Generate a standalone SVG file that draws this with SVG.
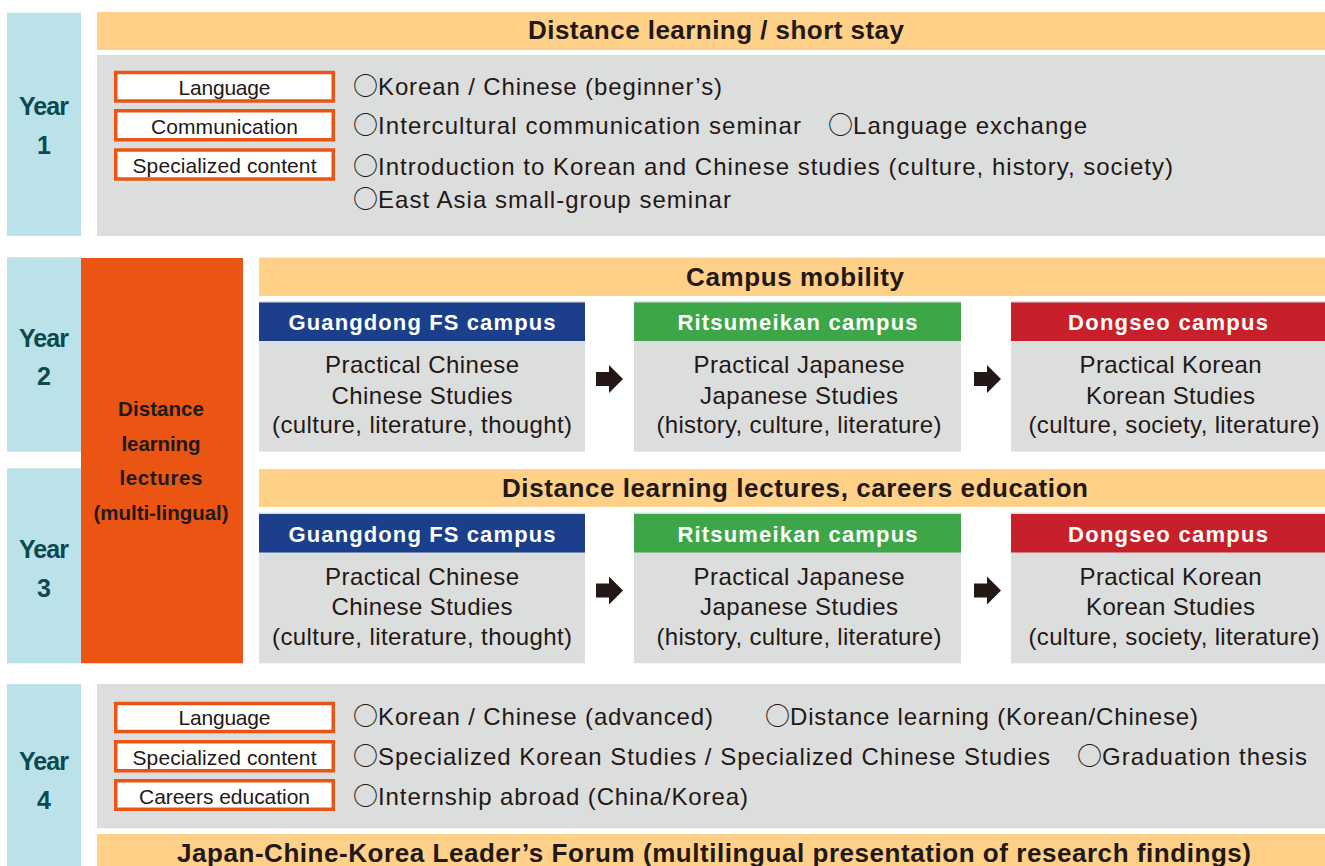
<svg xmlns="http://www.w3.org/2000/svg" width="1325" height="866" viewBox="0 0 1325 866">
<style>
.yr{fill:#BBE2E9}
.hd{fill:#FED088}
.gr{fill:#DCDDDD}
.side{fill:#EA5514}
.lbl{fill:#fff;stroke:#EA5514;stroke-width:3.5}
.t{font-family:"Liberation Sans","Noto Sans CJK JP",Arial,sans-serif;fill:#231815}
.cj{font-family:"Noto Sans CJK JP",sans-serif;font-size:25px}
.body{font-size:24px}
.lt{font-size:21px;text-anchor:middle}
.hb{font-size:26px;font-weight:bold;text-anchor:middle}
.yt{font-size:25px;font-weight:bold;fill:#0B4A50;text-anchor:middle}
.st{font-size:20.5px;font-weight:bold;text-anchor:middle}
.ch{font-size:22px;font-weight:bold;fill:#fff;text-anchor:middle}
.cb{font-size:24px;text-anchor:middle}
.arrow{fill:#231815}
</style>
<defs>
<path id="arr" d="M0,-7 H13 V-14 L27,0 L13,14 V7 H0 Z"/>
</defs>

<!-- Year 1 -->
<g id="year1">
<rect class="yr" x="7" y="12.7" width="74" height="223.3"/>
<text class="t yt" x="44" y="115" textLength="50">Year</text>
<text class="t yt" x="44" y="154">1</text>
<rect class="hd" x="97" y="12" width="1228" height="38"/>
<text class="t hb" x="716" y="39" textLength="376">Distance learning / short stay</text>
<rect class="gr" x="97" y="55" width="1228" height="181"/>
<rect class="lbl" x="115.75" y="72.5" width="217.5" height="28.5"/>
<text class="t lt" x="224.5" y="95" textLength="92">Language</text>
<rect class="lbl" x="115.75" y="110.75" width="217.5" height="29"/>
<text class="t lt" x="224.5" y="133.5" textLength="147">Communication</text>
<rect class="lbl" x="115.75" y="150" width="217.5" height="29"/>
<text class="t lt" x="224.5" y="173" textLength="184">Specialized content</text>
<text class="t body" x="353" y="95"><tspan class="cj">○</tspan><tspan x="378" textLength="344">Korean / Chinese (beginner’s)</tspan></text>
<text class="t body" x="353" y="134"><tspan class="cj">○</tspan><tspan x="378" textLength="423">Intercultural communication seminar</tspan></text>
<text class="t body" x="828" y="134"><tspan class="cj">○</tspan><tspan x="853" textLength="234">Language exchange</tspan></text>
<text class="t body" x="353" y="174.5"><tspan class="cj">○</tspan><tspan x="378" textLength="795">Introduction to Korean and Chinese studies (culture, history, society)</tspan></text>
<text class="t body" x="353" y="207.5"><tspan class="cj">○</tspan><tspan x="378" textLength="353">East Asia small-group seminar</tspan></text>
</g>

<!-- Year 2 / 3 side -->
<g id="year2">
<rect class="yr" x="7" y="257.3" width="74" height="194.4"/>
<text class="t yt" x="44" y="346.7" textLength="50">Year</text>
<text class="t yt" x="44" y="385">2</text>
</g>
<g id="year3">
<rect class="yr" x="7" y="468.3" width="74" height="195"/>
<text class="t yt" x="44" y="558" textLength="50">Year</text>
<text class="t yt" x="44" y="597">3</text>
</g>
<g id="distance-lectures">
<rect class="side" x="81" y="258" width="162" height="405.3"/>
<text class="t st" x="161" y="415.5" textLength="86">Distance</text>
<text class="t st" x="161" y="450.5" textLength="79">learning</text>
<text class="t st" x="161" y="485" textLength="83">lectures</text>
<text class="t st" x="161" y="520" textLength="135">(multi-lingual)</text>
</g>

<!-- Year 2 campus row -->
<g id="campus-mobility">
<rect class="hd" x="259" y="257.5" width="1066" height="38.5"/>
<text class="t hb" x="795" y="286" textLength="218">Campus mobility</text>
</g>
<g id="y2-guangdong">
<rect class="gr" x="259" y="301" width="326" height="150.7"/>
<rect fill="#1B3F8A" x="259" y="302.5" width="326" height="38.5"/>
<text class="t ch" x="422" y="330" textLength="267">Guangdong FS campus</text>
<text class="t cb" x="422" y="373" textLength="194">Practical Chinese</text>
<text class="t cb" x="422" y="403.5" textLength="181">Chinese Studies</text>
<text class="t cb" x="422" y="433" textLength="300">(culture, literature, thought)</text>
</g>
<g id="y2-ritsumeikan">
<rect class="gr" x="634" y="301" width="327" height="150.7"/>
<rect fill="#3DA648" x="634" y="302.5" width="327" height="38.5"/>
<text class="t ch" x="797.5" y="330" textLength="240">Ritsumeikan campus</text>
<text class="t cb" x="799" y="373" textLength="211">Practical Japanese</text>
<text class="t cb" x="799" y="403.5" textLength="198">Japanese Studies</text>
<text class="t cb" x="799" y="433" textLength="285">(history, culture, literature)</text>
</g>
<g id="y2-dongseo">
<rect class="gr" x="1011" y="301" width="314" height="150.7"/>
<rect fill="#C8202A" x="1011" y="302.5" width="314" height="38.5"/>
<text class="t ch" x="1168" y="330" textLength="200">Dongseo campus</text>
<text class="t cb" x="1170.5" y="373" textLength="182">Practical Korean</text>
<text class="t cb" x="1170.5" y="403.5" textLength="169">Korean Studies</text>
<text class="t cb" x="1174" y="433" textLength="291">(culture, society, literature)</text>
</g>

<!-- Year 3 campus row -->
<g id="lectures-careers">
<rect class="hd" x="259" y="469" width="1066" height="38"/>
<text class="t hb" x="795" y="497" textLength="586">Distance learning lectures, careers education</text>
</g>
<g id="y3-guangdong">
<rect class="gr" x="259" y="512.5" width="326" height="150.8"/>
<rect fill="#1B3F8A" x="259" y="514" width="326" height="38.5"/>
<text class="t ch" x="422" y="541.5" textLength="267">Guangdong FS campus</text>
<text class="t cb" x="422" y="584.5" textLength="194">Practical Chinese</text>
<text class="t cb" x="422" y="615" textLength="181">Chinese Studies</text>
<text class="t cb" x="422" y="645" textLength="300">(culture, literature, thought)</text>
</g>
<g id="y3-ritsumeikan">
<rect class="gr" x="634" y="512.5" width="327" height="150.8"/>
<rect fill="#3DA648" x="634" y="514" width="327" height="38.5"/>
<text class="t ch" x="797.5" y="541.5" textLength="240">Ritsumeikan campus</text>
<text class="t cb" x="799" y="584.5" textLength="211">Practical Japanese</text>
<text class="t cb" x="799" y="615" textLength="198">Japanese Studies</text>
<text class="t cb" x="799" y="645" textLength="285">(history, culture, literature)</text>
</g>
<g id="y3-dongseo">
<rect class="gr" x="1011" y="512.5" width="314" height="150.8"/>
<rect fill="#C8202A" x="1011" y="514" width="314" height="38.5"/>
<text class="t ch" x="1168" y="541.5" textLength="200">Dongseo campus</text>
<text class="t cb" x="1170.5" y="584.5" textLength="182">Practical Korean</text>
<text class="t cb" x="1170.5" y="615" textLength="169">Korean Studies</text>
<text class="t cb" x="1174" y="645" textLength="291">(culture, society, literature)</text>
</g>

<!-- Connectors -->
<g id="connectors" class="arrow">
<use href="#arr" x="596" y="379"/>
<use href="#arr" x="974" y="379"/>
<use href="#arr" x="596" y="590.5"/>
<use href="#arr" x="974" y="590.5"/>
</g>

<!-- Year 4 -->
<g id="year4">
<rect class="yr" x="7" y="684" width="74" height="182"/>
<text class="t yt" x="44" y="769.5" textLength="50">Year</text>
<text class="t yt" x="44" y="808.5">4</text>
<rect class="gr" x="97" y="684" width="1228" height="144.3"/>
<rect class="lbl" x="115.75" y="703.5" width="217.5" height="28"/>
<text class="t lt" x="224.5" y="725" textLength="92">Language</text>
<rect class="lbl" x="115.75" y="741.75" width="217.5" height="29"/>
<text class="t lt" x="224.5" y="764.5" textLength="184">Specialized content</text>
<rect class="lbl" x="115.75" y="780.75" width="217.5" height="28.5"/>
<text class="t lt" x="224.5" y="803.5" textLength="171">Careers education</text>
<text class="t body" x="353" y="724.5"><tspan class="cj">○</tspan><tspan x="378" textLength="335">Korean / Chinese (advanced)</tspan></text>
<text class="t body" x="765" y="724.5"><tspan class="cj">○</tspan><tspan x="790" textLength="408">Distance learning (Korean/Chinese)</tspan></text>
<text class="t body" x="353" y="765"><tspan class="cj">○</tspan><tspan x="378" textLength="672">Specialized Korean Studies / Specialized Chinese Studies</tspan></text>
<text class="t body" x="1077" y="765"><tspan class="cj">○</tspan><tspan x="1102" textLength="205">Graduation thesis</tspan></text>
<text class="t body" x="353" y="805"><tspan class="cj">○</tspan><tspan x="378" textLength="370">Internship abroad (China/Korea)</tspan></text>
</g>
<g id="forum">
<rect class="hd" x="97" y="834" width="1228" height="32"/>
<text class="t hb" x="714" y="861.5" textLength="1074">Japan-Chine-Korea Leader’s Forum (multilingual presentation of research findings)</text>
</g>
</svg>
